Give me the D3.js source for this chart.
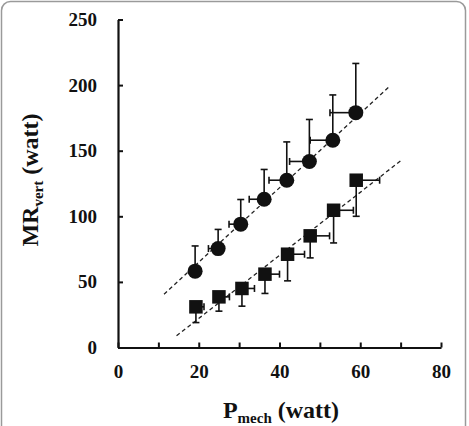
<!DOCTYPE html>
<html lang="en">
	<head>
		<meta charset="utf-8">
		<title>MRvert vs Pmech</title>
		<script type="text/javascript" src="https://d3js.org/d3.v7.min.js"></script>
		<style type="text/css">
			body { margin: 0; background: #fff; }
			text { font-family: "Liberation Serif", "Times New Roman", serif; font-weight: bold; }
		</style>
	</head>
	<body>
		<script type="text/javascript">

			//Width and height
			var w = 469;
			var h = 426;

			//Data: circles (upper series)
			var circleX = [19.1, 24.8, 30.4, 36.2, 41.8, 47.4, 53.2, 58.9];
			var circleY = [58.2, 75.4, 94.0, 113.0, 127.5, 141.8, 158.0, 179.0];
			var circleErrY = [19.2, 14.6, 18.8, 22.7, 29.2, 32.0, 34.5, 37.5];
			var circleErrX = [0, 2.4, 2.9, 3.7, 4.4, 4.9, 5.6, 6.4];

			//Data: squares (lower series)
			var squareX = [19.3, 25.0, 30.7, 36.4, 42.0, 47.6, 53.4, 59.0];
			var squareY = [31.0, 38.6, 45.0, 55.9, 71.1, 85.1, 104.6, 127.5];
			var squareErrY = [12.0, 10.9, 13.5, 14.7, 20.3, 16.8, 24.9, 27.5];
			var squareErrX = [2.0, 2.6, 3.1, 3.6, 4.2, 4.8, 4.9, 5.8];

			//Trend lines [x1, y1, x2, y2]
			var circleFit = [11.4, 40.6, 67.1, 198.6];
			var squareFit = [14.5, 8.9, 70.5, 143.5];

			//Ticks
			var xTicks = [0, 10, 20, 30, 40, 50, 60, 70, 80];
			var xTickLabels = ["0", "", "20", "", "40", "", "60", "", "80"];
			var yTicks = [0, 50, 100, 150, 200, 250];

			//Scales
			var x = d3.scaleLinear().domain([0, 80]).range([118, 441]);
			var y = d3.scaleLinear().domain([0, 250]).range([347.5, 19.5]);

			//Create SVG element
			var svg = d3.select("body")
				.append("svg")
				.attr("width", w)
				.attr("height", h);

			//Frame
			svg.append("rect")
				.attr("x", 1.5).attr("y", 1.5)
				.attr("width", 464).attr("height", 440)
				.attr("rx", 9)
				.attr("fill", "none")
				.attr("stroke", "#9a9a9a")
				.attr("stroke-width", 1.5);

			//Axes
			var xAxis = d3.axisBottom(x)
				.tickValues(xTicks)
				.tickFormat(function(d, i) { return xTickLabels[i]; })
				.tickSizeInner(-5).tickSizeOuter(0).tickPadding(17);
			var yAxis = d3.axisLeft(y)
				.tickValues(yTicks)
				.tickSizeInner(-5).tickSizeOuter(0).tickPadding(21);

			var gx = svg.append("g").attr("transform", "translate(0," + y(0) + ")").call(xAxis);
			var gy = svg.append("g").attr("transform", "translate(" + x(0) + ",0)").call(yAxis);
			[gx, gy].forEach(function(g) {
				g.select(".domain").attr("stroke", "#111").attr("stroke-width", 2.2);
				g.selectAll(".tick line").attr("stroke", "#111").attr("stroke-width", 2);
				g.selectAll(".tick text").attr("fill", "#111").style("font-size", "19px")
					.style("font-family", "'Liberation Serif', serif").style("font-weight", "bold");
			});

			//Trend lines
			[circleFit, squareFit].forEach(function(f) {
				svg.append("line")
					.attr("x1", x(f[0])).attr("y1", y(f[1]))
					.attr("x2", x(f[2])).attr("y2", y(f[3]))
					.attr("stroke", "#222").attr("stroke-width", 1.3)
					.attr("stroke-dasharray", "4,3");
			});

			//Error bars
			var eb = svg.append("g").attr("stroke", "#111").attr("stroke-width", 1.6);
			var cap = 3.5;
			function errBar(px, py, ex, ey, dir) {
				//vertical
				var yEnd = py + dir * ey;
				eb.append("line").attr("x1", x(px)).attr("x2", x(px)).attr("y1", y(py)).attr("y2", y(yEnd));
				eb.append("line").attr("x1", x(px) - cap).attr("x2", x(px) + cap).attr("y1", y(yEnd)).attr("y2", y(yEnd));
				//horizontal
				if (ex > 0) {
					var xEnd = px - dir * ex;
					eb.append("line").attr("x1", x(px)).attr("x2", x(xEnd)).attr("y1", y(py)).attr("y2", y(py));
					eb.append("line").attr("x1", x(xEnd)).attr("x2", x(xEnd)).attr("y1", y(py) - cap).attr("y2", y(py) + cap);
				}
			}
			circleX.forEach(function(d, i) { errBar(d, circleY[i], circleErrX[i], circleErrY[i], 1); });
			squareX.forEach(function(d, i) { errBar(d, squareY[i], squareErrX[i], squareErrY[i], -1); });

			//Markers
			svg.selectAll("circle.pt")
				.data(circleX)
				.enter()
				.append("circle")
				.attr("class", "pt")
				.attr("cx", function(d) { return x(d); })
				.attr("cy", function(d, i) { return y(circleY[i]); })
				.attr("r", 7.5)
				.attr("fill", "#111");

			var s = 13.5;
			svg.selectAll("rect.pt")
				.data(squareX)
				.enter()
				.append("rect")
				.attr("class", "pt")
				.attr("x", function(d) { return x(d) - s / 2; })
				.attr("y", function(d, i) { return y(squareY[i]) - s / 2; })
				.attr("width", s).attr("height", s)
				.attr("fill", "#111");

			//Axis titles
			var yt = svg.append("text")
				.attr("transform", "translate(38,180) rotate(-90)")
				.attr("text-anchor", "middle")
				.attr("fill", "#111")
				.style("font-size", "24px");
			yt.append("tspan").text("MR");
			yt.append("tspan").attr("dy", 5).style("font-size", "15px").text("vert");
			yt.append("tspan").attr("dy", -5).text(" (watt)");

			var xt = svg.append("text")
				.attr("x", 281).attr("y", 418)
				.attr("text-anchor", "middle")
				.attr("fill", "#111")
				.style("font-size", "24px");
			xt.append("tspan").text("P");
			xt.append("tspan").attr("dy", 5).style("font-size", "15px").text("mech");
			xt.append("tspan").attr("dy", -5).text(" (watt)");

		</script>
	</body>
</html>
